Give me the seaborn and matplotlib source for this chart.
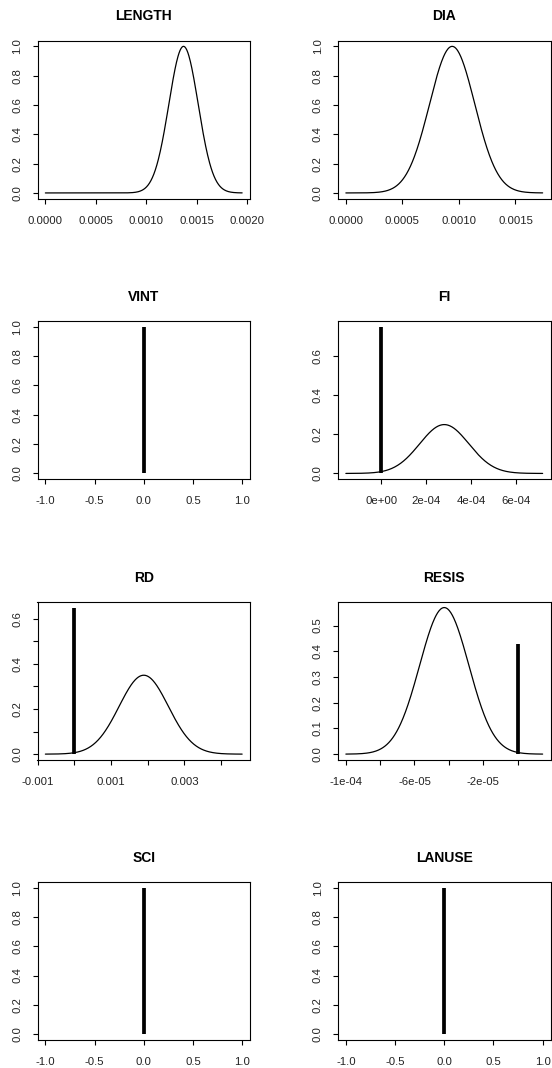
import numpy as np
import pandas as pd
import matplotlib
matplotlib.use("Agg")
import matplotlib.pyplot as plt
import seaborn as sns

# ---- data (posterior summaries) ----
names = ["LENGTH", "DIA", "VINT", "FI", "RD", "RESIS", "SCI", "LANUSE"]
post_mean = [0.001367, 0.00094, 0.0, 0.00028, 0.00189, -4.27e-05, 0.0, 0.0]
post_sd = [0.000145, 0.0002, 0.0, 0.000109, 0.00067, 1.43e-05, 0.0, 0.0]
prob_zero = [0.0, 0.0, 1.0, 0.75, 0.65, 0.43, 1.0, 1.0]

x_ticks = [
    [0.0, 0.0005, 0.0010, 0.0015, 0.0020],
    [0.0, 0.0005, 0.0010, 0.0015],
    [-1.0, -0.5, 0.0, 0.5, 1.0],
    [0.0, 2e-4, 4e-4, 6e-4],
    [-0.001, 0.0, 0.001, 0.002, 0.003, 0.004],
    [-1e-4, -8e-5, -6e-5, -4e-5, -2e-5, 0.0],
    [-1.0, -0.5, 0.0, 0.5, 1.0],
    [-1.0, -0.5, 0.0, 0.5, 1.0],
]
x_labels = [
    ["0.0000", "0.0005", "0.0010", "0.0015", "0.0020"],
    ["0.0000", "0.0005", "0.0010", "0.0015"],
    ["-1.0", "-0.5", "0.0", "0.5", "1.0"],
    ["0e+00", "2e-04", "4e-04", "6e-04"],
    ["-0.001", "", "0.001", "", "0.003", ""],
    ["-1e-04", "", "-6e-05", "", "-2e-05", ""],
    ["-1.0", "-0.5", "0.0", "0.5", "1.0"],
    ["-1.0", "-0.5", "0.0", "0.5", "1.0"],
]
y_ticks = [
    [0.0, 0.2, 0.4, 0.6, 0.8, 1.0],
    [0.0, 0.2, 0.4, 0.6, 0.8, 1.0],
    [0.0, 0.2, 0.4, 0.6, 0.8, 1.0],
    [0.0, 0.2, 0.4, 0.6],
    [0.0, 0.1, 0.2, 0.3, 0.4, 0.5, 0.6],
    [0.0, 0.1, 0.2, 0.3, 0.4, 0.5],
    [0.0, 0.2, 0.4, 0.6, 0.8, 1.0],
    [0.0, 0.2, 0.4, 0.6, 0.8, 1.0],
]
y_labels = [
    ["0.0", "0.2", "0.4", "0.6", "0.8", "1.0"],
    ["0.0", "0.2", "0.4", "0.6", "0.8", "1.0"],
    ["0.0", "0.2", "0.4", "0.6", "0.8", "1.0"],
    ["0.0", "0.2", "0.4", "0.6"],
    ["0.0", "", "0.2", "", "0.4", "", "0.6"],
    ["0.0", "0.1", "0.2", "0.3", "0.4", "0.5"],
    ["0.0", "0.2", "0.4", "0.6", "0.8", "1.0"],
    ["0.0", "0.2", "0.4", "0.6", "0.8", "1.0"],
]

# ---- style ----
sns.set_style("ticks")
plt.rcParams["font.family"] = ["Liberation Sans", "DejaVu Sans"]
plt.rcParams["text.color"] = "black"

W, H = 552, 1068
fig = plt.figure(figsize=(W / 100, H / 100), dpi=100)
fig.patch.set_facecolor("white")

col_left = [37.5, 338.0]
row_top = [40.5, 321.0, 601.7, 881.7]
ax_w, ax_h = 212.5, 158.3

for i, name in enumerate(names):
    r, c = divmod(i, 2)
    left, top = col_left[c], row_top[r]
    ax = fig.add_axes([left / W, 1 - (top + ax_h) / H, ax_w / W, ax_h / H])

    m, s, p0 = post_mean[i], post_sd[i], prob_zero[i]
    if s > 0:
        lo = min(0.0, m - 4 * s)
        hi = max(0.0, m + 4 * s)
        xs = np.linspace(lo, hi, 400)
        ys = (1 - p0) * np.exp(-0.5 * ((xs - m) / s) ** 2)
        df = pd.DataFrame({"x": xs, "y": ys})
        sns.lineplot(data=df, x="x", y="y", ax=ax, color="black", lw=0.9,
                     sort=False, estimator=None)
        ymax = max(1 - p0, p0)
    else:
        lo, hi = -1.0, 1.0
        ymax = p0
    if p0 > 0:
        ax.vlines(0.0, 0.0, p0, color="black", lw=2.7)

    xr = hi - lo
    ax.set_xlim(lo - 0.04 * xr, hi + 0.04 * xr)
    ax.set_ylim(-0.04 * ymax, ymax * 1.04)

    ax.set_xticks(x_ticks[i])
    ax.set_xticklabels(x_labels[i], fontsize=8.2)
    ax.set_yticks(y_ticks[i])
    ax.set_yticklabels(y_labels[i], fontsize=8.2, rotation=90, va="center")
    ax.tick_params(axis="x", direction="out", length=3.6, width=0.8,
                   pad=8.6, colors="black", labelcolor="#222222",
                   bottom=True)
    ax.tick_params(axis="y", direction="out", length=3.6, width=0.8,
                   pad=7.3, colors="black", labelcolor="#222222",
                   left=True)
    ax.set_xlabel("")
    ax.set_ylabel("")
    for sp in ax.spines.values():
        sp.set_visible(True)
        sp.set_color("black")
        sp.set_linewidth(0.8)
    ax.set_title(name, fontsize=10, fontweight="bold", pad=14.4, color="black")

fig.savefig("out.png", dpi=100, facecolor="white")
